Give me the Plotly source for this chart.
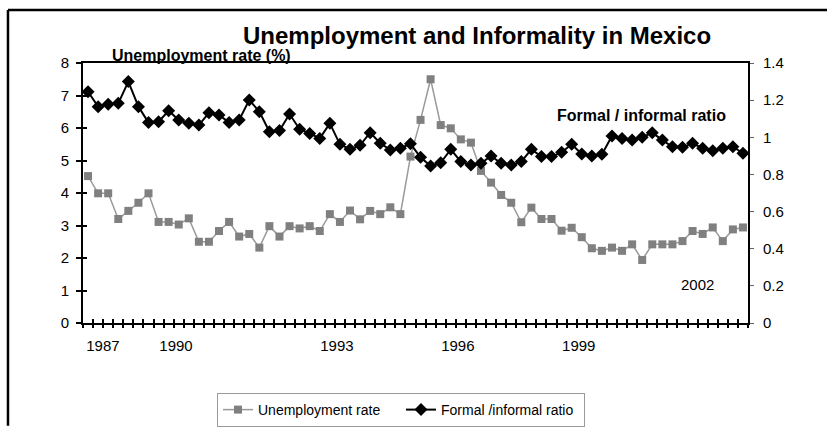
import plotly.graph_objects as go

# ---- data (quarterly observations, index 0..65) ----
quarter_index = list(range(66))
unemployment_rate = [4.52, 3.99, 3.99, 3.20, 3.45, 3.70, 3.99, 3.11, 3.11, 3.03,
                     3.22, 2.50, 2.50, 2.83, 3.11, 2.66, 2.74, 2.32, 2.98, 2.66,
                     2.98, 2.91, 2.98, 2.83, 3.35, 3.11, 3.46, 3.19, 3.45, 3.35,
                     3.56, 3.35, 5.12, 6.25, 7.50, 6.09, 5.99, 5.65, 5.55, 4.68,
                     4.32, 3.94, 3.70, 3.10, 3.55, 3.20, 3.20, 2.84, 2.93, 2.64,
                     2.30, 2.22, 2.32, 2.22, 2.42, 1.94, 2.42, 2.42, 2.42, 2.52,
                     2.83, 2.74, 2.94, 2.52, 2.88, 2.94]
formal_informal_ratio = [1.245, 1.165, 1.178, 1.183, 1.300, 1.165, 1.079, 1.084, 1.143, 1.093,
                         1.075, 1.066, 1.132, 1.120, 1.079, 1.093, 1.201, 1.138, 1.030, 1.036,
                         1.125, 1.043, 1.021, 0.994, 1.075, 0.962, 0.935, 0.957, 1.025, 0.968,
                         0.932, 0.941, 0.965, 0.892, 0.845, 0.863, 0.935, 0.869, 0.851, 0.860,
                         0.899, 0.860, 0.851, 0.869, 0.935, 0.896, 0.896, 0.919, 0.962, 0.910,
                         0.899, 0.908, 1.007, 0.994, 0.985, 1.000, 1.025, 0.985, 0.949, 0.946,
                         0.968, 0.941, 0.928, 0.941, 0.949, 0.914]
year_labels = ["1987", "1990", "1993", "1996", "1999"]
year_label_index = [1.48, 8.73, 24.7, 36.7, 48.7]
inner_year_label = "2002"
inner_year_index = 60.5
inner_year_value = 1.17

FONT = "Liberation Sans, Arial, sans-serif"
n = len(quarter_index)
boundaries = [i - 0.5 for i in range(n + 1)]

fig = go.Figure()
fig.add_trace(go.Scatter(
    x=quarter_index, y=unemployment_rate, name="Unemployment rate",
    mode="lines+markers", yaxis="y",
    line=dict(color="#9a9a9a", width=1.5),
    marker=dict(symbol="square", size=8, color="#808080"),
))
fig.add_trace(go.Scatter(
    x=quarter_index, y=formal_informal_ratio, name="Formal /informal ratio",
    mode="lines+markers", yaxis="y2",
    line=dict(color="#000000", width=2),
    marker=dict(symbol="diamond", size=10, color="#000000"),
))
# empty helper traces so the tick-only overlay axes exist
fig.add_trace(go.Scatter(x=[], y=[], xaxis="x2", yaxis="y", showlegend=False, hoverinfo="skip"))
fig.add_trace(go.Scatter(x=[], y=[], xaxis="x3", yaxis="y3", showlegend=False, hoverinfo="skip"))

xr = [-0.5, n - 0.5]
fig.update_layout(
    width=827, height=427, autosize=False,
    margin=dict(l=83, r=79, t=63, b=104, autoexpand=False),
    paper_bgcolor="white", plot_bgcolor="white",
    font=dict(family=FONT, color="black", size=15),
    showlegend=True,
    legend=dict(orientation="h", xref="container", yref="container",
                x=0.2624, y=0.0796, xanchor="left", yanchor="top",
                bordercolor="#9a9a9a", borderwidth=1, bgcolor="white",
                entrywidth=138, entrywidthmode="pixels",
                font=dict(size=14, family=FONT)),
    xaxis=dict(range=xr, tickmode="array", tickvals=year_label_index, ticktext=year_labels,
               ticks="", showline=True, linecolor="black", linewidth=2, mirror=True,
               showgrid=False, zeroline=False, tickfont=dict(size=15),
               ticklabelstandoff=8),
    xaxis2=dict(range=xr, overlaying="x", anchor="y", side="bottom", tickmode="array",
                tickvals=boundaries, ticks="outside", ticklen=4, tickwidth=2, tickcolor="black",
                showticklabels=False, showline=False, showgrid=False, zeroline=False),
    xaxis3=dict(range=xr, overlaying="x", anchor="y", side="bottom", tickmode="array",
                tickvals=boundaries, ticks="inside", ticklen=4, tickwidth=2, tickcolor="black",
                showticklabels=False, showline=False, showgrid=False, zeroline=False),
    yaxis=dict(range=[0, 8], dtick=1, tick0=0, ticks="outside", ticklen=5, tickwidth=2,
               tickcolor="black", showline=True, linecolor="black", linewidth=2,
               showgrid=False, zeroline=False, tickfont=dict(size=15), ticklabelstandoff=4),
    yaxis3=dict(range=[0, 8], overlaying="y", anchor="x", side="left", tickmode="array",
                tickvals=list(range(9)), ticks="inside", ticklen=4, tickwidth=2,
                tickcolor="black", showticklabels=False, showline=False, showgrid=False,
                zeroline=False),
    yaxis2=dict(range=[0, 1.4], dtick=0.2, tick0=0, overlaying="y", side="right", anchor="x",
                ticks="outside", ticklen=4, tickwidth=1, tickcolor="#666666",
                showline=True, linecolor="black", linewidth=2, showgrid=False,
                zeroline=False, tickfont=dict(size=15), ticklabelstandoff=6),
)

fig.add_annotation(text="<b>Unemployment and Informality in Mexico</b>", xref="paper", yref="paper",
                   x=0.5925, y=1.104, xanchor="center", yanchor="middle", showarrow=False,
                   font=dict(size=24, family=FONT))
fig.add_annotation(text="<b>Unemployment rate (%)</b>", xref="paper", yref="paper",
                   x=0.178, y=1.027, xanchor="center", yanchor="middle", showarrow=False,
                   font=dict(size=16, family=FONT))
fig.add_annotation(text="<b>Formal / informal ratio</b>", xref="paper", yref="paper",
                   x=0.84, y=0.798, xanchor="center", yanchor="middle", showarrow=False,
                   font=dict(size=16, family=FONT))
fig.add_annotation(text=inner_year_label, xref="x", yref="y",
                   x=inner_year_index, y=inner_year_value, xanchor="center", yanchor="middle",
                   showarrow=False, font=dict(size=15, family=FONT))

# outer frame of the figure panel (cropped at right and bottom): left and top edges
fig.add_shape(type="line", xref="paper", yref="paper",
              x0=-0.1128, x1=-0.1128, y0=-0.395, y1=1.2038,
              line=dict(color="black", width=2.5), layer="above")
fig.add_shape(type="line", xref="paper", yref="paper",
              x0=-0.1128, x1=1.12, y0=1.2038, y1=1.2038,
              line=dict(color="black", width=2.5), layer="above")

fig.write_html(
    "out.html",
    post_script=("document.documentElement.style.overflow='hidden';"
                 "document.body.style.overflow='hidden';"
                 "document.body.style.margin='0';"),
)
